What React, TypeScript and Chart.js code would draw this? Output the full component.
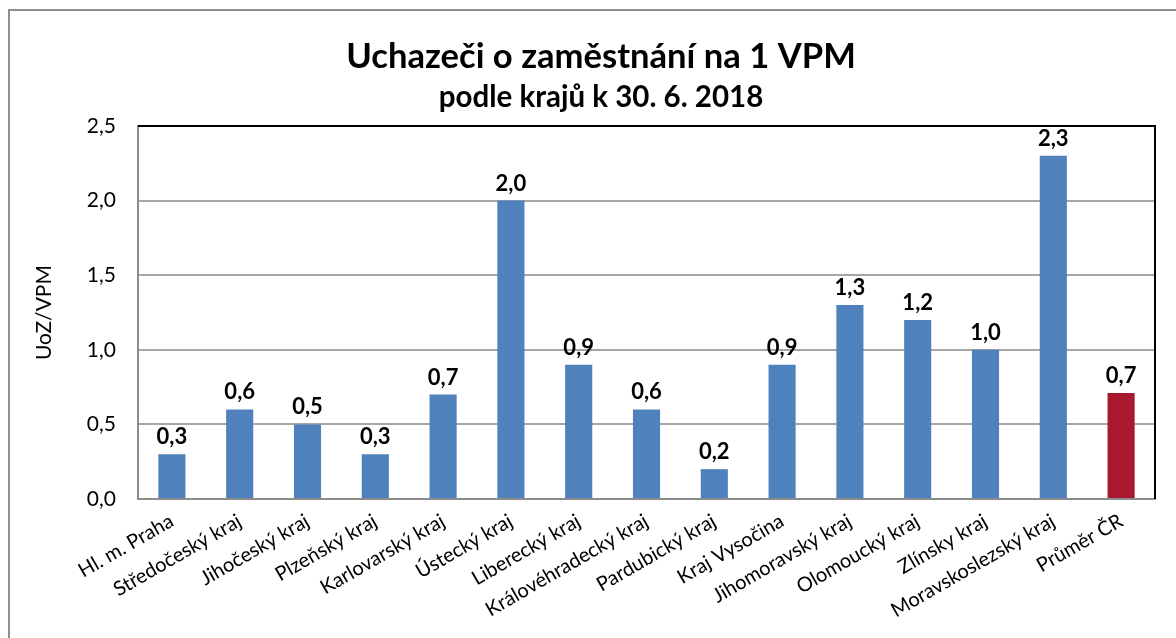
import React, { useEffect, useRef } from "react";
import { Chart, registerables } from "chart.js";

Chart.register(...registerables);

const categories = [
  "Hl. m. Praha",
  "Středočeský kraj",
  "Jihočeský kraj",
  "Plzeňský kraj",
  "Karlovarský kraj",
  "Ústecký kraj",
  "Liberecký kraj",
  "Královéhradecký kraj",
  "Pardubický kraj",
  "Kraj Vysočina",
  "Jihomoravský kraj",
  "Olomoucký kraj",
  "Zlínsky kraj",
  "Moravskoslezský kraj",
  "Průměr ČR",
];
const values = [0.3, 0.6, 0.5, 0.3, 0.7, 2.0, 0.9, 0.6, 0.2, 0.9, 1.3, 1.2, 1.0, 2.3, 0.71];
const yTicks = [0, 0.5, 1.0, 1.5, 2.0, 2.5];
const titleText = "Uchazeči o zaměstnání na 1 VPM";
const subtitleText = "podle krajů k 30. 6. 2018";
const yTitleText = "UoZ/VPM";

const BLUE = "#4f81bd";
const RED = "#a8182e";
const FONT = "Lato";

const fmt = (v: number) => v.toFixed(1).replace(".", ",");

const decorPlugin = {
  id: "decor",
  afterDatasetsDraw(chart: any) {
    const ctx = chart.ctx;
    const meta = chart.getDatasetMeta(0);
    ctx.save();
    ctx.font = `bold 22px ${FONT}`;
    ctx.fillStyle = "#000";
    ctx.textAlign = "center";
    ctx.textBaseline = "alphabetic";
    meta.data.forEach((el: any, i: number) => {
      ctx.fillText(fmt(values[i]), el.x, el.y - 10);
    });
    const a = chart.chartArea;
    ctx.strokeStyle = "#000";
    ctx.lineWidth = 2;
    ctx.beginPath();
    ctx.moveTo(a.left, a.top);
    ctx.lineTo(a.right, a.top);
    ctx.lineTo(a.right, a.bottom);
    ctx.stroke();
    ctx.restore();
  },
};

export default function App() {
  const ref = useRef<HTMLCanvasElement | null>(null);
  useEffect(() => {
    if (!ref.current) return;
    const chart = new Chart(ref.current, {
      type: "bar",
      data: {
        labels: categories,
        datasets: [
          {
            data: values,
            backgroundColor: values.map((_, i) => (i === values.length - 1 ? RED : BLUE)),
            barPercentage: 0.8,
            categoryPercentage: 0.5,
          },
        ],
      },
      options: {
        responsive: false,
        animation: false,
        devicePixelRatio: 1,
        layout: { padding: 0 },
        plugins: {
          legend: { display: false },
          tooltip: { enabled: false },
          title: {
            display: true,
            text: titleText,
            color: "#000",
            font: { family: FONT, size: 34.6, weight: "bold" },
            padding: { top: 24.7, bottom: 0 },
          },
          subtitle: {
            display: true,
            text: subtitleText,
            color: "#000",
            font: { family: FONT, size: 29.5, weight: "bold" },
            padding: { top: 2.1, bottom: 11.3 },
          },
        },
        scales: {
          x: {
            grid: { display: false, drawTicks: false },
            border: { display: true, color: "#8c8c8c", width: 2 },
            ticks: {
              color: "#000",
              font: { family: FONT, size: 20 },
              maxRotation: 30,
              minRotation: 30,
              autoSkip: false,
              padding: 10,
            },
            afterFit: (s: any) => {
              s.height = 139;
            },
          },
          y: {
            min: 0,
            max: 2.5,
            afterBuildTicks: (s: any) => {
              s.ticks = yTicks.map((v) => ({ value: v }));
            },
            grid: { color: "#a6a6a6", lineWidth: 2, drawTicks: false },
            border: { display: true, color: "#8c8c8c", width: 2 },
            ticks: {
              color: "#000",
              font: { family: FONT, size: 21 },
              padding: 22,
              callback: (v: any) => fmt(Number(v)),
            },
            title: {
              display: true,
              text: yTitleText,
              color: "#000",
              font: { family: FONT, size: 21 },
              padding: { top: 22, bottom: 0 },
            },
            afterFit: (s: any) => {
              s.width = 128;
            },
          },
          yR: {
            position: "right",
            display: true,
            grid: { display: false, drawTicks: false },
            border: { display: false },
            ticks: { display: false },
            afterFit: (s: any) => {
              s.width = 37;
            },
          },
        },
      },
      plugins: [decorPlugin],
    } as any);
    return () => chart.destroy();
  }, []);

  return (
    <div
      style={{
        position: "fixed",
        left: 8,
        top: 9,
        width: 1300,
        height: 700,
        border: "2px solid #8f8f8f",
        background: "#fff",
      }}
    >
      <canvas ref={ref} width={1182} height={627} style={{ display: "block" }} />
    </div>
  );
}
